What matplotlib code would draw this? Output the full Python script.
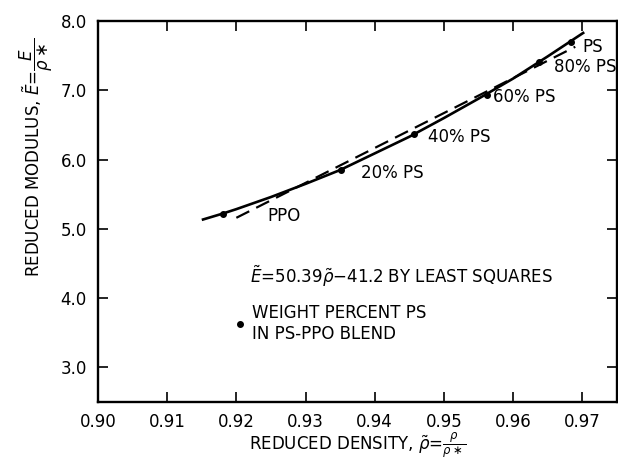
import matplotlib
matplotlib.use('Agg')
import matplotlib.pyplot as plt

plt.rcParams['font.family'] = ['DejaVu Sans']
plt.rcParams['mathtext.fontset'] = 'dejavusans'

# smooth curve through the blends
rho_curve = [0.915, 0.918, 0.920, 0.925, 0.930, 0.935, 0.940, 0.945, 0.950, 0.955, 0.960, 0.965, 0.9703]
E_curve = [5.13, 5.22, 5.285, 5.46, 5.65, 5.85, 6.09, 6.33, 6.60, 6.88, 7.17, 7.49, 7.84]

# least squares line end points (E = 50.39 rho - 41.2)
rho_fit = [0.920, 0.969]
E_fit = [5.16, 7.63]

# measured blends
rho_pts = [0.918, 0.9351, 0.9457, 0.9562, 0.9638, 0.9684]
E_pts = [5.22, 5.85, 6.37, 6.94, 7.41, 7.70]
pt_labels = ['PPO', '20% PS', '40% PS', '60% PS', '80% PS', 'PS']
label_x = [0.9245, 0.938, 0.9477, 0.9571, 0.9659, 0.9701]
label_y = [5.18, 5.81, 6.33, 6.90, 7.34, 7.62]

xticks = [0.90, 0.91, 0.92, 0.93, 0.94, 0.95, 0.96, 0.97]
yticks = [3.0, 4.0, 5.0, 6.0, 7.0, 8.0]

fig = plt.figure(figsize=(6.18, 4.70), dpi=100)
ax = fig.add_axes([0.1586, 0.1447, 0.8394, 0.8103])

ax.plot(rho_curve, E_curve, color='black', lw=1.9, solid_capstyle='butt')
ax.plot(rho_fit, E_fit, color='black', lw=1.6, dashes=(6.5, 3.5))
ax.plot(rho_pts, E_pts, 'o', color='black', ms=4)

for t, x, y in zip(pt_labels, label_x, label_y):
    ax.text(x, y, t, fontsize=12, va='center', ha='left')

ax.text(0.9220, 4.32, r'$\tilde{E}$=50.39$\tilde{\rho}$$-$41.2 BY LEAST SQUARES',
        fontsize=12, va='center', ha='left')
ax.plot([0.9206], [3.63], 'o', color='black', ms=4)
ax.text(0.9223, 3.78, 'WEIGHT PERCENT PS', fontsize=12, va='center', ha='left')
ax.text(0.9223, 3.48, 'IN PS-PPO BLEND', fontsize=12, va='center', ha='left')

ax.set_xlim(0.90, 0.975)
ax.set_ylim(2.5, 8.0)
ax.set_xticks(xticks)
ax.set_xticklabels(['%.2f' % v for v in xticks])
ax.set_yticks(yticks)
ax.set_yticklabels(['%.1f' % v for v in yticks])
ax.tick_params(direction='in', top=True, right=True, length=7, width=1.2,
               labelsize=12, pad=8)
for s in ax.spines.values():
    s.set_linewidth(1.7)

ax.set_xlabel(r'REDUCED DENSITY, $\tilde{\rho}$=$\frac{\rho}{\rho\ast}$', fontsize=12, labelpad=-1)
ax.set_ylabel(r'REDUCED MODULUS, $\tilde{E}$=$\dfrac{E}{\rho\ast}$', fontsize=12)
ax.yaxis.set_label_coords(-0.083, 0.643)

fig.savefig('out.png', dpi=100)
